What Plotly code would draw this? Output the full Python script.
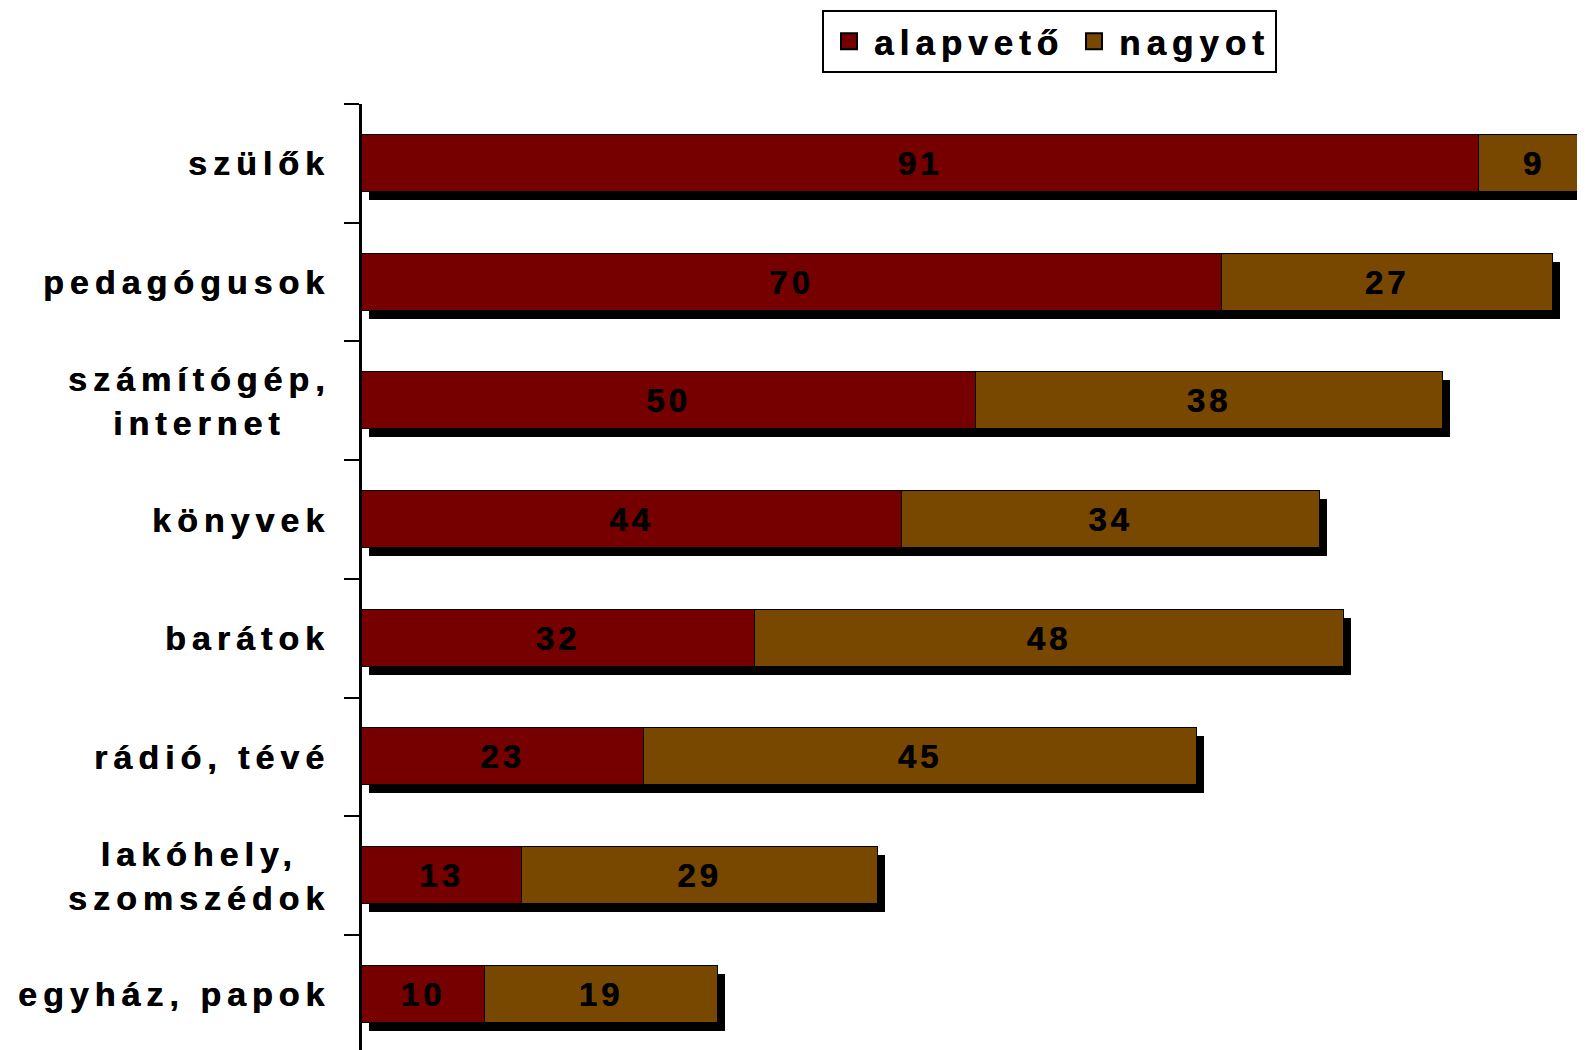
import plotly.graph_objects as go

# ---- data ----
categories = ["szülők", "pedagógusok", "számítógép,<br>internet", "könyvek",
              "barátok", "rádió, tévé", "lakóhely,<br>szomszédok", "egyház, papok"]
alapveto = [91, 70, 50, 44, 32, 23, 13, 10]
nagyot = [9, 27, 38, 34, 48, 45, 29, 19]
series_names = ["alapvető", "nagyot"]

totals = [a + b for a, b in zip(alapveto, nagyot)]

# ---- style ----
OFF = 8                      # page body margin of the html page
W, H = 1585 - OFF, 1050 - OFF
ML, MT = 362 - OFF, 104 - OFF
FONT = "Liberation Sans, Arial, sans-serif"
RED = "#760000"
BROWN = "#784800"
PX_PER_X = 12.28
PX_PER_Y = 118.7
XMAX = (W - ML) / PX_PER_X
YTOP = -0.5
YBOT = YTOP + (H - MT) / PX_PER_Y
SHX, SHY = 7, 8  # shadow offset in pixels
BARW = 0.48
HEAVY = "0.6px 0px 0px black"


def ls(s, px):
    return f'<span style="letter-spacing:{px}px">{s}</span>'


fig = go.Figure()

# drop shadow (base axes, drawn beneath)
fig.add_trace(go.Bar(
    y=categories, x=totals, orientation="h", width=BARW,
    marker=dict(color="black", line=dict(width=0)),
    xaxis="x", yaxis="y", showlegend=False, hoverinfo="skip",
))

# main stacked bars (overlay axes, drawn above)
colors = [RED, BROWN]
for name, vals, col in [(series_names[0], alapveto, RED), (series_names[1], nagyot, BROWN)]:
    fig.add_trace(go.Bar(
        y=categories, x=vals, orientation="h", width=BARW,
        name=name, showlegend=False,
        marker=dict(color=col, line=dict(color="black", width=1)),
        text=[ls(str(v), 4) for v in vals],
        texttemplate="%{text}",
        textposition="inside", insidetextanchor="middle", constraintext="none",
        textangle=0,
        insidetextfont=dict(family=FONT, size=33, color="black", weight="bold",
                            shadow=HEAVY),
        xaxis="x2", yaxis="y2",
        hovertemplate=name + ": %{x}<extra></extra>",
    ))

# legend entries
for name, col in zip(series_names, colors):
    fig.add_trace(go.Scatter(
        x=[None], y=[None], mode="markers", name=ls(name, 6),
        marker=dict(symbol="square", size=16, color=col,
                    line=dict(color="black", width=2)),
        xaxis="x2", yaxis="y2", hoverinfo="skip",
    ))

annotations = []
for c in categories:
    lines = c.split("<br>")
    txt = "<br>".join(ls(l, 6) for l in lines)
    annotations.append(dict(
        xref="paper", yref="y2", x=0, y=c, xanchor="right", yanchor="middle",
        xshift=-30, text=txt, showarrow=False, align="center",
        font=dict(family=FONT, size=34, color="black", weight="bold", shadow=HEAVY),
    ))

fig.update_layout(
    width=W, height=H,
    margin=dict(l=ML, r=0, t=MT, b=0, pad=0),
    paper_bgcolor="white", plot_bgcolor="white",
    barmode="stack", bargap=0,
    font=dict(family=FONT, color="black"),
    xaxis=dict(domain=[0, 1], range=[-SHX / PX_PER_X, XMAX - SHX / PX_PER_X],
               visible=False, fixedrange=True),
    yaxis=dict(type="category", categoryorder="array", categoryarray=categories,
               range=[YBOT - SHY / PX_PER_Y, YTOP - SHY / PX_PER_Y],
               visible=False, fixedrange=True),
    xaxis2=dict(overlaying="x", anchor="y2", range=[0, XMAX], visible=False,
                fixedrange=True),
    yaxis2=dict(overlaying="y", anchor="x2", type="category", categoryorder="array",
                categoryarray=categories, range=[YBOT, YTOP - 0.001],
                showline=True, linewidth=3, linecolor="black",
                ticks="outside", tickson="boundaries", ticklen=15, tickwidth=2,
                tickcolor="black", showticklabels=False, showgrid=False,
                zeroline=False, fixedrange=True),
    legend=dict(orientation="h", xref="container", yref="container",
                x=(822 - OFF) / W, y=1 - (10 - OFF) / H, xanchor="left", yanchor="top",
                bgcolor="white", bordercolor="black", borderwidth=2,
                font=dict(family=FONT, size=35, color="black", weight="bold",
                          shadow=HEAVY),
                traceorder="normal", itemwidth=40),
    annotations=annotations,
    showlegend=True,
)

fig.write_html("out.html")
